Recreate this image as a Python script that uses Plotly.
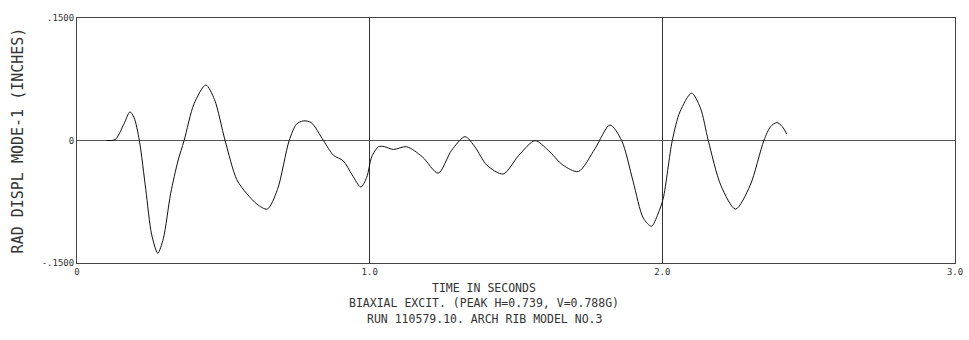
import plotly.graph_objects as go

# Time (s) and radial displacement mode-1 (inches)
time_s = [0.10, 0.13, 0.16, 0.181, 0.195, 0.213, 0.235, 0.255, 0.276, 0.295,
          0.32, 0.345, 0.366, 0.40, 0.44, 0.47, 0.506, 0.546, 0.58, 0.615,
          0.65, 0.685, 0.725, 0.75, 0.773, 0.80, 0.842, 0.876, 0.91, 0.94,
          0.970, 0.99, 1.007, 1.03, 1.05, 1.081, 1.126, 1.18, 1.234, 1.28,
          1.326, 1.36, 1.40, 1.456, 1.51, 1.565, 1.61, 1.66, 1.713, 1.77,
          1.821, 1.861, 1.90, 1.935, 1.963, 1.985, 2.003, 2.034, 2.06, 2.10,
          2.13, 2.157, 2.20, 2.25, 2.30, 2.347, 2.37, 2.391, 2.41, 2.425]
displ = [0.0, 0.001, 0.020, 0.035, 0.028, 0.0, -0.060, -0.115, -0.138, -0.120,
         -0.065, -0.025, 0.0, 0.045, 0.068, 0.050, 0.0, -0.048, -0.065, -0.078,
         -0.084, -0.060, 0.0, 0.020, 0.024, 0.022, 0.0, -0.018, -0.025, -0.042,
         -0.057, -0.045, -0.020, -0.0076, -0.0075, -0.011, -0.0076, -0.020, -0.040, -0.012,
         0.0047, -0.008, -0.030, -0.041, -0.018, -0.0002, -0.012, -0.030, -0.038, -0.010,
         0.019, 0.0, -0.050, -0.095, -0.105, -0.090, -0.071, 0.0, 0.035, 0.058,
         0.040, 0.0, -0.055, -0.084, -0.055, 0.0, 0.017, 0.022, 0.017, 0.008]

x_ticks = [0, 1, 2, 3]
x_labels = ["0", "1.0", "2.0", "3.0"]
y_ticks = [-0.15, 0, 0.15]
y_labels = ["-.1500", "0", ".1500"]

y_title = "RAD DISPL MODE-1 (INCHES)"
x_title = "TIME IN SECONDS"
sub1 = "BIAXIAL EXCIT. (PEAK H=0.739, V=0.788G)"
sub2 = "RUN 110579.10. ARCH RIB MODEL NO.3"

FONT = "DejaVu Sans Mono"

fig = go.Figure()
fig.add_trace(go.Scatter(x=time_s, y=displ, mode="lines",
                         line=dict(color="#111111", width=1, shape="spline", smoothing=0.8),
                         showlegend=False, hoverinfo="skip"))

fig.update_layout(
    width=969, height=340,
    margin=dict(l=77, r=14, t=18, b=77, autoexpand=False),
    paper_bgcolor="white", plot_bgcolor="white",
    font=dict(family=FONT, color="#222222", size=10),
    xaxis=dict(range=[0, 3], tickvals=x_ticks, ticktext=x_labels, automargin=False,
               showgrid=True, gridcolor="#333333", gridwidth=1,
               zeroline=False, showline=True, linecolor="#444444", linewidth=1,
               mirror=True, ticks="", tickfont=dict(size=9, family=FONT, color="#333333")),
    yaxis=dict(range=[-0.15, 0.15], tickvals=y_ticks, ticktext=y_labels, automargin=False,
               showgrid=True, gridcolor="#555555", gridwidth=1,
               zeroline=False, showline=True, linecolor="#444444", linewidth=1,
               mirror=True, ticks="", tickfont=dict(size=9, family=FONT, color="#333333"),
               title=dict(text=y_title, font=dict(size=15, family=FONT, color="#333333"),
                          standoff=14)),
)

cx = (484 - 77) / 878.0
for txt, yp in [(x_title, -0.102), (sub1, -0.163), (sub2, -0.229)]:
    fig.add_annotation(text=txt, xref="paper", yref="paper", x=cx, y=yp,
                       xanchor="center", yanchor="middle", showarrow=False,
                       font=dict(size=11.5, family=FONT, color="#333333"))

fig.write_html("out.html")
